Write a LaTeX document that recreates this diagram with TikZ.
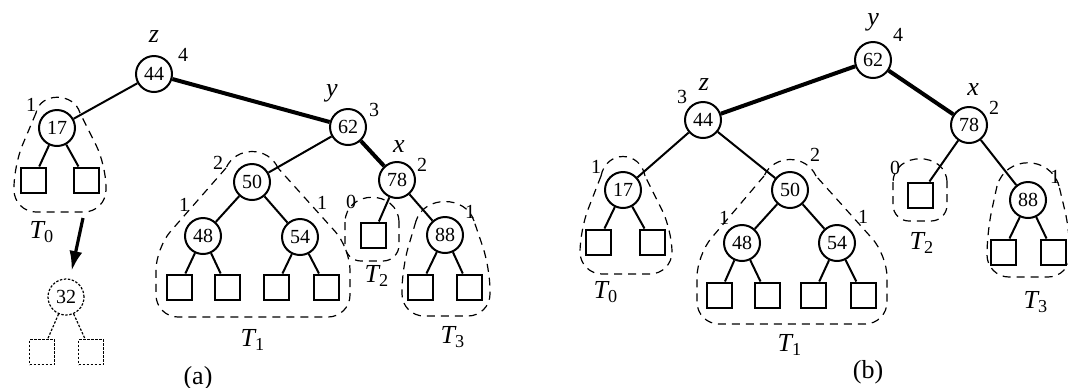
\documentclass[tikz,border=0pt]{standalone}
\usepackage{fontspec}
\setmainfont{Liberation Serif}
\usetikzlibrary{arrows.meta}

\begin{document}
\begin{tikzpicture}[x=0.5pt,y=-0.5pt,
    key/.style={circle,draw,line width=1pt,minimum size=18pt,inner sep=0pt,font=\fontsize{10}{12}\selectfont},
    leaf/.style={draw,line width=1pt,minimum size=12.5pt,inner sep=0pt},
    ghostkey/.style={key,line width=0.6pt,dash pattern=on 1.2pt off 0.8pt},
    ghostleaf/.style={leaf,line width=0.6pt,dash pattern=on 1.2pt off 0.8pt},
    lnk/.style={line width=1pt},
    ghostlnk/.style={line width=0.6pt,dash pattern=on 1.2pt off 0.8pt},
    heavy/.style={line width=2pt},
    hood/.style={line width=0.6pt,dash pattern=on 4pt off 3pt},
    body/.style={hood,rounded corners=11pt},
    ht/.style={font=\fontsize{10}{12}\selectfont},
    tag/.style={font=\fontsize{13}{15}\selectfont\itshape},
    partlbl/.style={font=\fontsize{13}{15}\selectfont},
    push/.style={line width=1.6pt,-{Latex[length=10pt,width=6.5pt]},shorten >=4pt}]
    \useasboundingbox (0,0) rectangle (1068,387);
        \begin{scope}
    \node[key] (a44) at (154,74) {44};
    \node[key] (a17) at (57,128) {17};
    \node[key] (a62) at (348,127) {62};
    \node[key] (a50) at (252,182) {50};
    \node[key] (a48) at (203,236) {48};
    \node[key] (a54) at (300,237) {54};
    \node[key] (a78) at (397,180) {78};
    \node[key] (a88) at (445,235) {88};
    \foreach \n/\x/\y in {a17l/33/180,a17r/86/180,a48l/179/287,a48r/227/287,
        a54l/276/287,a54r/326/287,a78l/373/235,a88l/420/287,a88r/469/287}{
        \node[leaf] (\n) at (\x,\y) {};
    }
    \draw[heavy] (a44) -- (a62) -- (a78);
    \foreach \p/\c in {a44/a17,a62/a50,a78/a88,a78/a78l,a17/a17l,a17/a17r,
        a50/a48,a50/a54,a48/a48l,a48/a48r,a54/a54l,a54/a54r,a88/a88l,a88/a88r}{
        \draw[lnk] (\p) -- (\c);
    }
    \draw[hood] (80,113) .. controls (74,92) and (40,92) .. (36,113);
    \draw[body] (36,113) -- (14,165) -- (14,212) -- (106,212) -- (106,165) -- (80,113);
    \draw[hood] (278,168) .. controls (268,146) and (236,146) .. (226,168);
    \draw[body] (226,168) -- (156,248) -- (156,317) -- (350,317) -- (350,248) -- (278,168);
    \draw[hood] (399,222) .. controls (398,189) and (346,189) .. (345,222);
    \draw[body,rounded corners=8pt] (345,222) -- (345,261) -- (399,261) -- (399,222);
    \draw[hood] (474,221) .. controls (466,195) and (424,195) .. (416,221);
    \draw[body] (416,221) -- (402,268) -- (402,316) -- (490,316) -- (490,268) -- (474,221);
    \node[ghostkey] (a32) at (66,297) {32};
    \node[ghostleaf] (a32l) at (42,352) {};
    \node[ghostleaf] (a32r) at (91,352) {};
    \draw[ghostlnk] (a32) -- (a32l);
    \draw[ghostlnk] (a32) -- (a32r);
    \coordinate (atail) at (83,218);
    \draw[push] (atail) -- (a32);
    \node[tag] at (154,37) {z};
    \node[tag] at (332,93) {y};
    \node[tag] at (399,147) {x};
    \node[ht] at (183,55) {4};
    \node[ht] at (31,105) {1};
    \node[ht] at (374,110) {3};
    \node[ht] at (422,165) {2};
    \node[ht] at (218,163) {2};
    \node[ht] at (184,205) {1};
    \node[ht] at (322,203) {1};
    \node[ht] at (351,202) {0};
    \node[ht] at (470,212) {1};
    \node[tag] (at0) at (42,232) {T\textsubscript{\upshape 0}};
    \node[tag] (at1) at (253,340) {T\textsubscript{\upshape 1}};
    \node[tag] (at2) at (377,276) {T\textsubscript{\upshape 2}};
    \node[tag] (at3) at (453,337) {T\textsubscript{\upshape 3}};
    \node[partlbl] at (198,378) {(a)};
        \end{scope}
        \begin{scope}
    \node[key] (b62) at (873,60) {62};
    \node[key] (b44) at (703,120) {44};
    \node[key] (b78) at (969,125) {78};
    \node[key] (b17) at (623,190) {17};
    \node[key] (b50) at (790,190) {50};
    \node[key] (b48) at (742,243) {48};
    \node[key] (b54) at (837,243) {54};
    \node[key] (b88) at (1028,200) {88};
    \foreach \n/\x/\y in {b17l/598/242,b17r/652/242,b48l/719/295,b48r/767/295,
        b54l/813/295,b54r/863/295,b78l/920/195,b88l/1003/252,b88r/1053/252}{
        \node[leaf] (\n) at (\x,\y) {};
    }
    \draw[heavy] (b44) -- (b62) -- (b78);
    \foreach \p/\c in {b44/b17,b44/b50,b78/b78l,b78/b88,b17/b17l,b17/b17r,
        b50/b48,b50/b54,b48/b48l,b48/b48r,b54/b54l,b54/b54r,b88/b88l,b88/b88r}{
        \draw[lnk] (\p) -- (\c);
    }
    \draw[hood] (645,176) .. controls (640,150) and (606,150) .. (601,176);
    \draw[body] (601,176) -- (580,230) -- (580,274) -- (672,274) -- (672,230) -- (645,176);
    \draw[hood] (816,176) .. controls (806,154) and (774,154) .. (764,176);
    \draw[body] (764,176) -- (697,255) -- (697,324) -- (887,324) -- (887,255) -- (816,176);
    \draw[hood] (947,182) .. controls (946,151) and (894,151) .. (893,182);
    \draw[body,rounded corners=8pt] (893,182) -- (893,221) -- (947,221) -- (947,182);
    \draw[hood] (1059,186) .. controls (1050,155) and (1006,155) .. (997,186);
    \draw[body] (997,186) -- (987,232) -- (987,277) -- (1070,277) -- (1070,232) -- (1059,186);
    \node[tag] at (873,22) {y};
    \node[tag] at (704,85) {z};
    \node[tag] at (973,90) {x};
    \node[ht] at (898,35) {4};
    \node[ht] at (682,97) {3};
    \node[ht] at (994,108) {2};
    \node[ht] at (596,167) {1};
    \node[ht] at (815,155) {2};
    \node[ht] at (724,218) {1};
    \node[ht] at (863,217) {1};
    \node[ht] at (895,168) {0};
    \node[ht] at (1055,177) {1};
    \node[tag] (bt0) at (606,292) {T\textsubscript{\upshape 0}};
    \node[tag] (bt1) at (790,345) {T\textsubscript{\upshape 1}};
    \node[tag] (bt2) at (922,243) {T\textsubscript{\upshape 2}};
    \node[tag] (bt3) at (1036,302) {T\textsubscript{\upshape 3}};
    \node[partlbl] at (868,372) {(b)};
        \end{scope}
\end{tikzpicture}
\end{document}
